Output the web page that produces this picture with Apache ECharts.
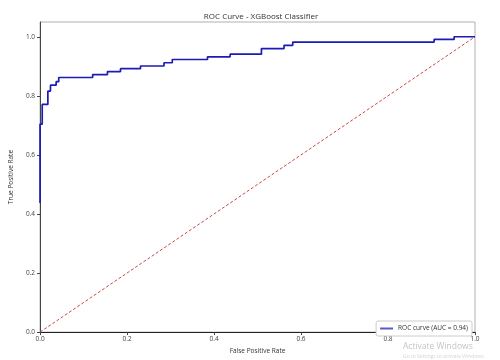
<!DOCTYPE html>
<html>
<head>
<meta charset="utf-8">
<script src="https://cdn.jsdelivr.net/npm/echarts@6/dist/echarts.min.js"></script>
<style>html,body{margin:0;padding:0;background:#fff}#c{width:500px;height:360px}</style>
</head>
<body>
<div id="c"></div>
<script>
// ROC curve points
const fpr = [0, 0, 0.005, 0.005, 0.018, 0.018, 0.024, 0.024, 0.037, 0.037, 0.043, 0.043,
  0.121, 0.121, 0.155, 0.155, 0.185, 0.185, 0.231, 0.231, 0.285, 0.285, 0.304, 0.304,
  0.385, 0.385, 0.437, 0.437, 0.509, 0.509, 0.561, 0.561, 0.581, 0.581, 0.906, 0.906,
  0.952, 0.952, 1.0];
const tpr = [0.437, 0.704, 0.704, 0.771, 0.771, 0.816, 0.816, 0.836, 0.836, 0.848, 0.848, 0.862,
  0.862, 0.872, 0.872, 0.882, 0.882, 0.892, 0.892, 0.901, 0.901, 0.912, 0.912, 0.923,
  0.923, 0.932, 0.932, 0.941, 0.941, 0.960, 0.960, 0.971, 0.971, 0.982, 0.982, 0.991,
  0.991, 1.0, 1.0];
const diagX = [0, 1];
const diagY = [0, 1];
const xTicks = [0, 0.2, 0.4, 0.6, 0.8, 1.0];
const yTicks = [0, 0.2, 0.4, 0.6, 0.8, 1.0];
const rocName = 'ROC curve (AUC = 0.94)';

const FONT = 'Open Sans';
const chart = echarts.init(document.getElementById('c'), null, {renderer: 'canvas'});
const fmt = v => {
  const ok = yTicks.some(t => Math.abs(t - v) < 1e-9);
  return ok ? v.toFixed(1) : '';
};
chart.setOption({
  animation: false,
  backgroundColor: '#fff',
  title: {
    text: 'ROC Curve - XGBoost Classifier',
    left: 256, top: 8, textAlign: 'center',
    textStyle: {fontFamily: FONT, fontSize: 8, fontWeight: 'normal', color: '#333'}
  },
  grid: {left: 37, right: 25, top: 22, bottom: 22, show: true, borderColor: '#b0b0b0', borderWidth: 1},
  legend: {
    data: [{name: rocName, icon: 'rect'}],
    right: 28, bottom: 24,
    itemWidth: 13, itemHeight: 2, itemGap: 4,
    padding: [4, 4, 4, 4],
    borderColor: '#cccccc', borderWidth: 1, borderRadius: 2,
    backgroundColor: '#fff',
    textStyle: {fontFamily: FONT, fontSize: 6.5, color: '#333'}
  },
  xAxis: {
    type: 'value', min: 0, max: 1, interval: 0.2,
    name: 'False Positive Rate', nameLocation: 'middle', nameGap: 11,
    nameTextStyle: {fontFamily: FONT, fontSize: 6.5, color: '#333'},
    axisLine: {show: true, lineStyle: {color: '#222', width: 1}},
    axisTick: {show: true, length: 3, lineStyle: {color: '#444'}},
    axisLabel: {fontFamily: FONT, fontSize: 6.5, color: '#444', margin: 4, formatter: v => v.toFixed(1)},
    splitLine: {show: false}
  },
  yAxis: {
    type: 'value', min: 0, max: 1.05, interval: 0.2,
    name: 'True Positive Rate', nameLocation: 'middle', nameGap: 16,
    nameTextStyle: {fontFamily: FONT, fontSize: 6.5, color: '#333'},
    axisLine: {show: true, lineStyle: {color: '#444', width: 1}},
    axisTick: {show: true, length: 3, lineStyle: {color: '#444'}},
    axisLabel: {fontFamily: FONT, fontSize: 6.5, color: '#444', margin: 5, formatter: fmt, showMaxLabel: false},
    splitLine: {show: false}
  },
  series: [
    {
      name: rocName, type: 'line', showSymbol: false, symbol: 'none',
      data: fpr.map((x, i) => [x, tpr[i]]),
      lineStyle: {color: '#1c1cb4', width: 1.7},
      itemStyle: {color: '#5a5ac8'},
      clip: true, z: 3
    },
    {
      name: 'diag', type: 'line', showSymbol: false, symbol: 'none',
      data: diagX.map((x, i) => [x, diagY[i]]),
      lineStyle: {color: '#c84848', width: 1, type: [3, 2]},
      z: 2
    }
  ],
  graphic: [
    {type: 'text', left: 403, top: 342, z: 10,
     style: {text: 'Activate Windows', fontFamily: FONT, fontSize: 8.5, fill: '#c4c4c4'}},
    {type: 'text', left: 403, top: 354, z: 10,
     style: {text: 'Go to Settings to activate Windows.', fontFamily: FONT, fontSize: 5, fill: '#d4d4d4'}}
  ]
});
</script>
</body>
</html>
